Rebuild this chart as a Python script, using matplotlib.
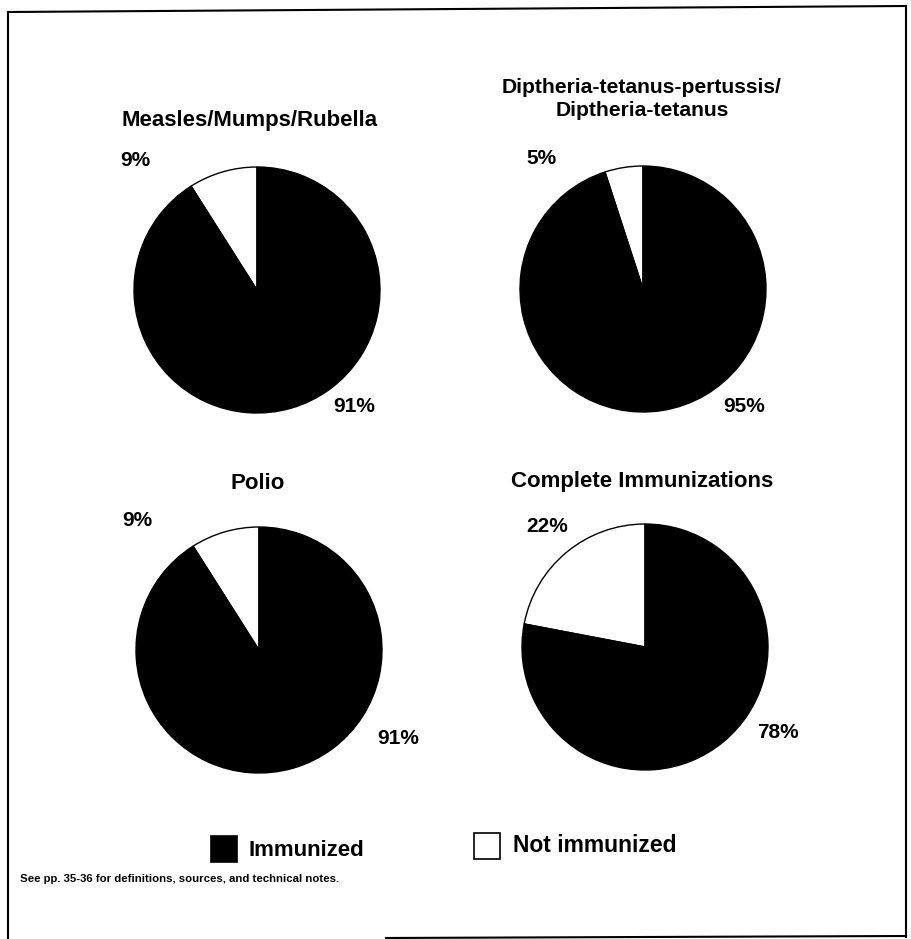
import matplotlib
matplotlib.use("Agg")
import matplotlib.pyplot as plt
from matplotlib.patches import Rectangle
from matplotlib.lines import Line2D

W, H = 912, 939
plt.rcParams['font.family'] = ['Liberation Sans', 'DejaVu Sans']

titles = ["Measles/Mumps/Rubella",
          "Diptheria-tetanus-pertussis/\nDiptheria-tetanus",
          "Polio",
          "Complete Immunizations"]
not_immunized = [9, 5, 9, 22]
immunized = [91, 95, 91, 78]
categories = ["Immunized", "Not immunized"]

# layout (pixels)
centers = [(257, 290), (643, 289), (259, 650), (645, 647)]
radius = 123
title_pos = [(250, 121), (642, 99), (258, 484), (642, 482)]
title_size = [16, 15.2, 16, 16]
small_lbl = [(135, 160), (541, 158), (137, 520), (547, 527)]
big_lbl = [(354, 407), (744, 407), (398, 738), (778, 733)]

fig = plt.figure(figsize=(W / 100, H / 100), dpi=100)

def fx(x):
    return x / W

def fy(y):
    return 1 - y / H

for i in range(4):
    cx, cy = centers[i]
    ax = fig.add_axes([fx(cx - radius), fy(cy + radius), 2 * radius / W, 2 * radius / H])
    ax.pie([not_immunized[i], immunized[i]], colors=["white", "black"],
           startangle=90, counterclock=True, radius=1,
           wedgeprops=dict(edgecolor="black", linewidth=1.0))
    ax.set_xlim(-1.0, 1.0)
    ax.set_ylim(-1.0, 1.0)
    ax.set_aspect('equal')
    ax.axis('off')
    tx, ty = title_pos[i]
    fig.text(fx(tx), fy(ty), titles[i], ha='center', va='center',
             fontsize=title_size[i], fontweight='bold', linespacing=1.3)
    sx, sy = small_lbl[i]
    fig.text(fx(sx), fy(sy), f"{not_immunized[i]}%", ha='center', va='center',
             fontsize=15, fontweight='bold')
    bx, by = big_lbl[i]
    fig.text(fx(bx), fy(by), f"{immunized[i]}%", ha='center', va='center',
             fontsize=15, fontweight='bold')

# legend
fig.patches.append(Rectangle((fx(211), fy(862)), 26 / W, 26 / H, transform=fig.transFigure,
                             facecolor='black', edgecolor='black', lw=1.2))
fig.text(fx(249), fy(850), categories[0], ha='left', va='center', fontsize=16, fontweight='bold')
fig.patches.append(Rectangle((fx(474), fy(859)), 26 / W, 26 / H, transform=fig.transFigure,
                             facecolor='white', edgecolor='black', lw=1.2))
fig.text(fx(513), fy(846), categories[1], ha='left', va='center', fontsize=16.5, fontweight='bold')

fig.text(fx(20), fy(879), "See pp. 35-36 for definitions, sources, and technical notes.",
         ha='left', va='center', fontsize=8.2, fontweight='bold')

# border
lw = 1.5
fig.lines.append(Line2D([fx(8), fx(906)], [fy(12), fy(6)], transform=fig.transFigure, color='black', lw=lw))
fig.lines.append(Line2D([fx(8), fx(8)], [fy(12), fy(939)], transform=fig.transFigure, color='black', lw=lw))
fig.lines.append(Line2D([fx(906), fx(906)], [fy(6), fy(937)], transform=fig.transFigure, color='black', lw=lw))
fig.lines.append(Line2D([fx(386), fx(906)], [fy(938), fy(936)], transform=fig.transFigure, color='black', lw=lw))

fig.savefig("out.png", dpi=100, facecolor='white')
